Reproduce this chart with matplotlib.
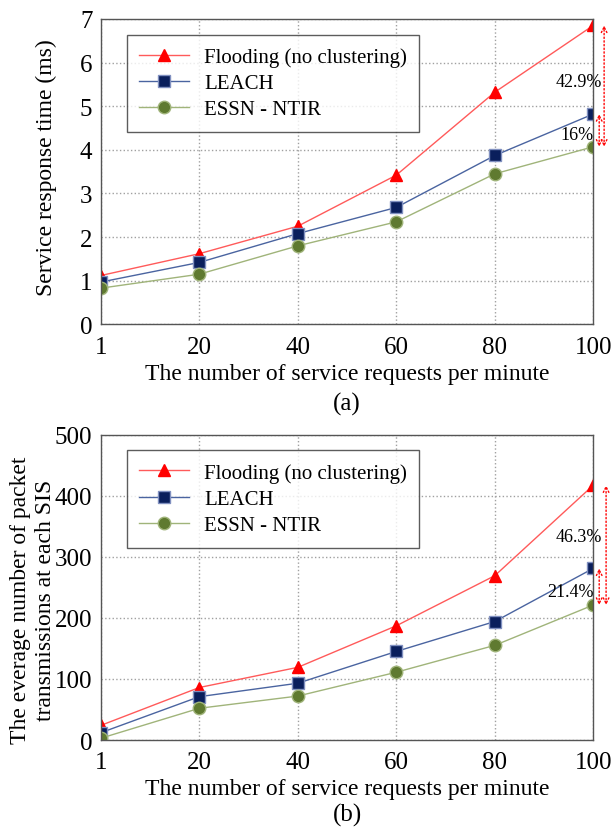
import matplotlib
matplotlib.use("Agg")
import matplotlib.pyplot as plt

plt.rcParams['font.family'] = ['Liberation Serif', 'DejaVu Serif']

x_labels = ['1', '20', '40', '60', '80', '100']
series_names = ['Flooding (no clustering)', 'LEACH', 'ESSN - NTIR']

resp_flooding = [1.12, 1.62, 2.25, 3.42, 5.32, 6.85]
resp_leach = [0.97, 1.42, 2.08, 2.68, 3.87, 4.82]
resp_essn = [0.83, 1.15, 1.80, 2.35, 3.45, 4.07]

pkt_flooding = [24, 86, 119, 187, 269, 417]
pkt_leach = [12, 71, 93, 145, 194, 281]
pkt_essn = [3, 52, 72, 111, 155, 221]

pct_a = ['42.9%', '16%']
pct_b = ['46.3%', '21.4%']

fig = plt.figure(figsize=(6.11, 8.28), dpi=100)
ax1 = fig.add_axes([0.165, 0.607, 0.806, 0.369])
ax2 = fig.add_axes([0.165, 0.105, 0.806, 0.369])

xpos = list(range(len(x_labels)))

styles = [
    dict(color='#ff5a5a', marker='^', mfc='#ff0000', mec='#ff0000', ms=9),
    dict(color='#4a64a0', marker='s', mfc='#0a1f5c', mec='#8090c0', ms=8),
    dict(color='#a0b47a', marker='o', mfc='#5f7a30', mec='#a0b47a', ms=9),
]

def draw(ax, data, ylim, yticks, ylabel, ylab_xy, sub, sub_y, pcts, txt_y, arrow_x):
    for d, st, name in zip(data, styles, series_names):
        ax.plot(xpos, d, lw=1.0, label=name, **st)
    ax.set_xlim(0, 5)
    ax.set_ylim(*ylim)
    ax.set_xticks(xpos)
    ax.set_xticklabels(x_labels)
    ax.set_yticks(yticks)
    ax.tick_params(labelsize=18, length=0)
    ax.tick_params(axis='x', pad=8)
    ax.tick_params(axis='y', pad=6)
    ax.grid(True, color='#a0a0a0', linestyle=':', lw=1.0)
    for s in ax.spines.values():
        s.set_color('#555555')
        s.set_linewidth(1.0)
    ax.text(0.5, -0.16, 'The number of service requests per minute', transform=ax.transAxes,
            ha='center', va='center', fontsize=17)
    ax.set_ylabel(ylabel, fontsize=17, va='center', linespacing=1.25)
    ax.yaxis.set_label_coords(*ylab_xy)
    ax.text(0.5, sub_y, sub, transform=ax.transAxes, ha='center', va='center', fontsize=18)
    leg = ax.legend(loc='upper left', bbox_to_anchor=(0.053, 0.948), fontsize=15,
                    frameon=True, fancybox=False, borderpad=0.6, labelspacing=0.32,
                    handlelength=2.4, handletextpad=0.7, borderaxespad=0)
    leg.get_frame().set_edgecolor('#333333')
    leg.get_frame().set_linewidth(1.0)
    top, mid, low = data[0][-1], data[1][-1], data[2][-1]
    ax.annotate('', xy=(arrow_x[0], top), xytext=(arrow_x[0], low), annotation_clip=False,
                arrowprops=dict(arrowstyle='<->', color='#ff0000', ls=':', lw=1.0,
                                shrinkA=0, shrinkB=0))
    ax.annotate('', xy=(arrow_x[1], mid), xytext=(arrow_x[1], low), annotation_clip=False,
                arrowprops=dict(arrowstyle='<->', color='#ff0000', ls=':', lw=1.0,
                                shrinkA=0, shrinkB=0))
    ax.text(5.09, txt_y[0], pcts[0], ha='right', va='center', fontsize=13, clip_on=False)
    ax.text(5.0, txt_y[1], pcts[1], ha='right', va='center', fontsize=13, clip_on=False)

draw(ax1, [resp_flooding, resp_leach, resp_essn], (0, 7), range(0, 8),
     'Service response time (ms)', (-0.11, 0.515), '(a)', -0.258, pct_a, (5.57, 4.34), (5.11, 5.06))
draw(ax2, [pkt_flooding, pkt_leach, pkt_essn], (0, 500), range(0, 501, 100),
     'The everage number of packet\ntransmissions at each SIS', (-0.138, 0.46), '(b)', -0.245,
     pct_b, (333, 243), (5.13, 5.06))

fig.savefig('out.png', dpi=100)
